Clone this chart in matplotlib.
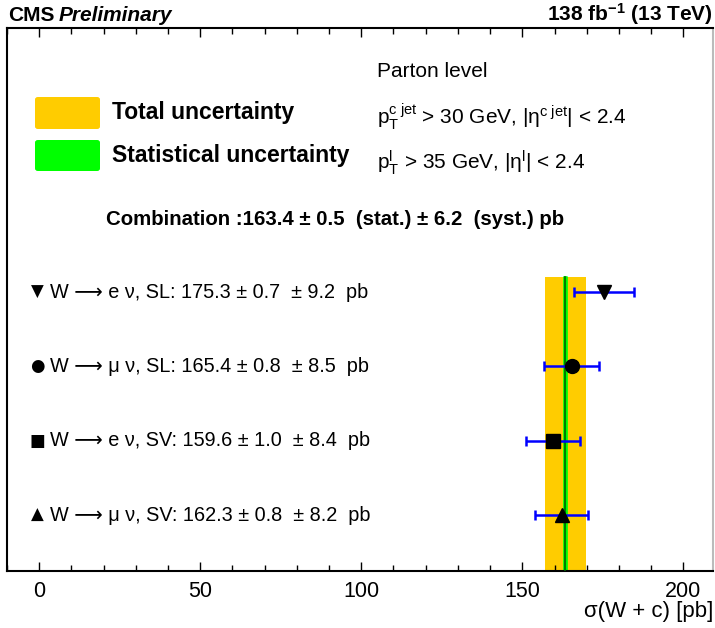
"""W+c cross-section summary plot (CMS style), drawn with matplotlib."""

import math

import matplotlib

matplotlib.use("Agg")
import matplotlib.pyplot as plt
from matplotlib.patches import FancyBboxPatch
from matplotlib.ticker import MultipleLocator

plt.rcParams["font.family"] = ["Liberation Sans", "DejaVu Sans"]
plt.rcParams["mathtext.fontset"] = "custom"
plt.rcParams["mathtext.rm"] = "Liberation Sans"
plt.rcParams["mathtext.it"] = "Liberation Sans:italic"
plt.rcParams["mathtext.bf"] = "Liberation Sans:bold"

# measurements, top row first
channels = ["W ⟶ e ν, SL", "W ⟶ μ ν, SL", "W ⟶ e ν, SV", "W ⟶ μ ν, SV"]
marker_styles = ["v", "o", "s", "^"]
marker_glyphs = ["▼", "●", "■", "▲"]
xsec = [175.3, 165.4, 159.6, 162.3]
stat = [0.7, 0.8, 1.0, 0.8]
syst = [9.2, 8.5, 8.4, 8.2]
rows = [4, 3, 2, 1]

comb_value = 163.4
comb_stat = 0.5
comb_syst = 6.2

W, H = 715, 628


def fx(px):
    return px / W


def fy(py):
    return 1 - py / H


fig = plt.figure(figsize=(W / 100, H / 100), dpi=100)
ax = fig.add_axes([fx(7), fy(571), fx(713) - fx(7), fy(28) - fy(571)])
ax.set_xlim(-10, 209.2)
ax.set_ylim(0.25, 7.55)
band_top = 4.2

# combination bands
comb_tot = math.hypot(comb_stat, comb_syst)
ax.fill_betweenx([0.25, band_top], comb_value - comb_tot, comb_value + comb_tot,
                 color="#ffcc00", linewidth=0, zorder=1)
ax.fill_betweenx([0.25, band_top], comb_value - comb_stat, comb_value + comb_stat,
                 facecolor="#00ff00", edgecolor="#00ff00", linewidth=1.2, zorder=2)
ax.plot([comb_value, comb_value], [0.25, band_top], color="#006400",
        linewidth=1.2, zorder=3)

for val, s, sy, row, m in zip(xsec, stat, syst, rows, marker_styles):
    tot = math.hypot(s, sy)
    ax.errorbar([val], [row], xerr=[tot], fmt=m, color="black", ecolor="#0000ff",
                elinewidth=1.8, capsize=3.6, capthick=1.8, markersize=10, zorder=4)

# channel labels
ytr = ax.get_yaxis_transform()
for name, val, s, sy, row, g in zip(channels, xsec, stat, syst, rows, marker_glyphs):
    ax.text((37 - 7) / 706, row, g, transform=ytr, ha="center", va="center",
            fontsize=12, family=["DejaVu Sans"])
    ax.text((50 - 7) / 706, row, f"{name}: {val:.1f} ± {s:.1f}  ± {sy:.1f}  pb",
            transform=ytr, ha="left", va="center", fontsize=14.3)

# axis styling
for side in ["top", "bottom", "left", "right"]:
    ax.spines[side].set_linewidth(1.5)
ax.spines["right"].set_color("#bbbbbb")
ax.xaxis.set_major_locator(MultipleLocator(50))
ax.xaxis.set_minor_locator(MultipleLocator(10))
ax.tick_params(axis="x", which="both", direction="in", top=True, bottom=True,
               labelsize=15.5, pad=7)
ax.tick_params(axis="x", which="major", length=6.5, width=1)
ax.tick_params(axis="x", which="minor", length=4, width=1)
ax.set_yticks([])
fig.text(fx(713), fy(611), "σ(W + c) [pb]", ha="right", va="center", fontsize=16)

# header
fig.text(fx(8), fy(21), "CMS", ha="left", va="baseline", fontsize=15,
         fontweight="bold")
fig.text(fx(59), fy(21), "Preliminary", ha="left", va="baseline", fontsize=15,
         fontweight="bold", fontstyle="italic")
fig.text(fx(713), fy(21), r"138 fb$^{\mathbf{-1}}$ (13 TeV)", ha="right",
         va="baseline", fontsize=15, fontweight="bold")

# legend boxes
for (y0, y1), col, label in [((97, 129), "#ffcc00", "Total uncertainty"),
                             ((140, 171), "#00ff00", "Statistical uncertainty")]:
    box = FancyBboxPatch((fx(35), fy(y1)), fx(100) - fx(35), fy(y0) - fy(y1),
                         boxstyle="round,pad=0,rounding_size=0.004",
                         transform=fig.transFigure, facecolor=col,
                         edgecolor="none")
    fig.patches.append(box)
    fig.text(fx(112), fy((y0 + y1) / 2), label, ha="left", va="center",
             fontsize=16.5, fontweight="bold")

# selection text
fig.text(fx(377), fy(77), "Parton level", ha="left", va="baseline", fontsize=15)
fig.text(fx(377), fy(124),
         r"p$_\mathrm{T}^\mathrm{c\ jet}$ > 30 GeV, |η$^\mathrm{c\ jet}$| < 2.4",
         ha="left", va="baseline", fontsize=15)
fig.text(fx(377), fy(169),
         r"p$_\mathrm{T}^\mathrm{l}$ > 35 GeV, |η$^\mathrm{l}$| < 2.4",
         ha="left", va="baseline", fontsize=15)

fig.text(fx(106), fy(225),
         f"Combination :{comb_value:.1f} ± {comb_stat:.1f}  (stat.) ± {comb_syst:.1f}  (syst.) pb",
         ha="left", va="baseline", fontsize=14.7, fontweight="bold")

fig.savefig("out.png", dpi=100)
